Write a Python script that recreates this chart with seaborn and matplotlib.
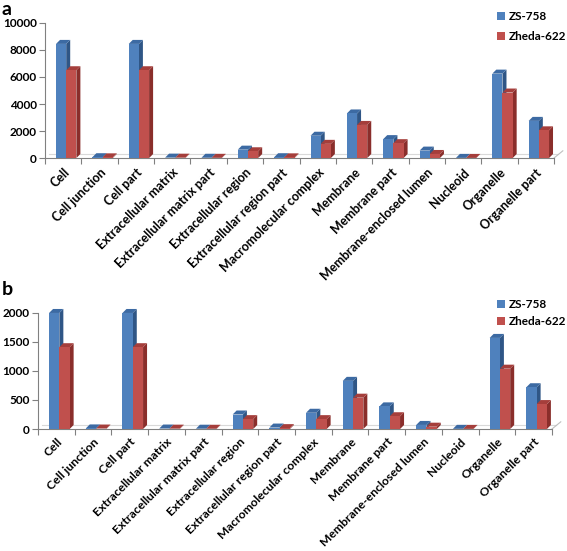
import numpy as np
import pandas as pd
import matplotlib
matplotlib.use('Agg')
import matplotlib.pyplot as plt
import seaborn as sns
from matplotlib.patches import Polygon, Patch

categories = ['Cell', 'Cell junction', 'Cell part', 'Extracellular matrix',
              'Extracellular matrix part', 'Extracellular region',
              'Extracellular region part', 'Macromolecular complex', 'Membrane',
              'Membrane part', 'Membrane-enclosed lumen', 'Nucleoid',
              'Organelle', 'Organelle part']
series = ['ZS-758', 'Zheda-622']

# panel a
zs_a = [8450, 60, 8450, 30, 20, 620, 60, 1650, 3300, 1400, 550, 10, 6250, 2750]
zh_a = [6500, 50, 6500, 25, 15, 500, 50, 1050, 2450, 1100, 300, 8, 4850, 2050]
# panel b
zs_b = [2000, 10, 2000, 8, 5, 250, 25, 280, 830, 390, 70, 3, 1570, 720]
zh_b = [1410, 8, 1410, 6, 4, 170, 15, 170, 540, 220, 40, 2, 1040, 430]

colors = ['#4F81BD', '#C0504D']
side_colors = ['#2F5686', '#8A2E2B']
top_colors = ['#3C6AA3', '#A53E3B']

plt.rcParams['font.family'] = ['Lato', 'DejaVu Sans']
plt.rcParams['font.weight'] = 'bold'

fig = plt.figure(figsize=(5.67, 5.51), dpi=100)
ax_a = fig.add_axes([0.0794, 0.7132, 0.8977, 0.2451])
ax_b = fig.add_axes([0.067, 0.2214, 0.9065, 0.2106])


def draw_panel(ax, zs, zh, ymax, step, pad, fs):
    df = pd.DataFrame({'category': categories * 2,
                       'series': [series[0]] * len(categories) + [series[1]] * len(categories),
                       'value': zs + zh})
    sns.barplot(data=df, x='category', y='value', hue='series', palette=colors,
                width=0.56, gap=0, saturation=1, ax=ax, legend=False, zorder=3)
    ax.set_xlim(-0.5, len(categories) - 0.5)
    ax.set_ylim(0, ymax)
    fig.canvas.draw()
    bb = ax.get_window_extent()
    dx = 4.0 / bb.width * (len(categories))
    dy = 4.0 / bb.height * ymax
    shift = 3.0 / bb.width * (len(categories))
    bars = [p for p in ax.patches]
    n = len(categories)
    for i, p in enumerate(bars):
        k = 0 if i < n else 1
        p.set_x(p.get_x() + shift)
        x, w, h = p.get_x(), p.get_width(), p.get_height()
        side = Polygon([(x + w, 0), (x + w + dx, dy), (x + w + dx, h + dy), (x + w, h)],
                       closed=True, facecolor=side_colors[k], edgecolor='none',
                       zorder=2, clip_on=False)
        top = Polygon([(x, h), (x + dx, h + dy), (x + w + dx, h + dy), (x + w, h)],
                      closed=True, facecolor=top_colors[k], edgecolor='none',
                      zorder=2, clip_on=False)
        ax.add_patch(side)
        ax.add_patch(top)
    # floor back edge
    ax.plot([-0.5 + dx, n - 0.5 + dx], [dy, dy], color='#D9D9D9', lw=0.8, zorder=1,
            clip_on=False)
    ax.plot([n - 0.5, n - 0.5 + dx * 2.2], [0, dy * 1.8], color='#BFBFBF', lw=0.8, zorder=1,
            clip_on=False)

    ax.set_yticks(np.arange(0, ymax + 1, step))
    ax.set_yticklabels([str(int(v)) for v in np.arange(0, ymax + 1, step)],
                       fontsize=8.5, fontweight='bold')
    ax.set_xticks(range(n))
    ax.set_xticklabels(categories, rotation=45, ha='right', va='top',
                       rotation_mode='anchor', fontsize=fs, fontweight='bold')
    ax.set_xticks(np.arange(-0.5, n, 1), minor=True)
    ax.tick_params(axis='x', which='major', length=0, pad=pad)
    ax.tick_params(axis='x', which='minor', length=4, color='#808080', width=0.8)
    ax.tick_params(axis='y', length=4, color='#808080', width=0.8, pad=2)
    ax.set_xlabel('')
    ax.set_ylabel('')
    sns.despine(ax=ax)
    for s in ['left', 'bottom']:
        ax.spines[s].set_color('#808080')
        ax.spines[s].set_linewidth(0.8)


draw_panel(ax_a, zs_a, zh_a, 10000, 2000, 6, 9)
draw_panel(ax_b, zs_b, zh_b, 2000, 500, 5, 8.7)

fig.text(0.003, 0.998, 'a', fontsize=14, fontweight='bold', ha='left', va='top')
fig.text(0.003, 0.49, 'b', fontsize=14, fontweight='bold', ha='left', va='top')

handles = [Patch(facecolor=c, edgecolor='none') for c in colors]
fig.legend(handles, series, loc='upper left', bbox_to_anchor=(0.862, 0.995),
           frameon=False, handlelength=0.7, handleheight=0.7, borderpad=0.2,
           handletextpad=0.3, labelspacing=0.75, prop={'weight': 'bold', 'size': 8.5})
fig.legend(handles, series, loc='upper left', bbox_to_anchor=(0.862, 0.472),
           frameon=False, handlelength=0.7, handleheight=0.7, borderpad=0.2,
           handletextpad=0.3, labelspacing=0.5, prop={'weight': 'bold', 'size': 8.5})

fig.savefig('out.png', dpi=100)
